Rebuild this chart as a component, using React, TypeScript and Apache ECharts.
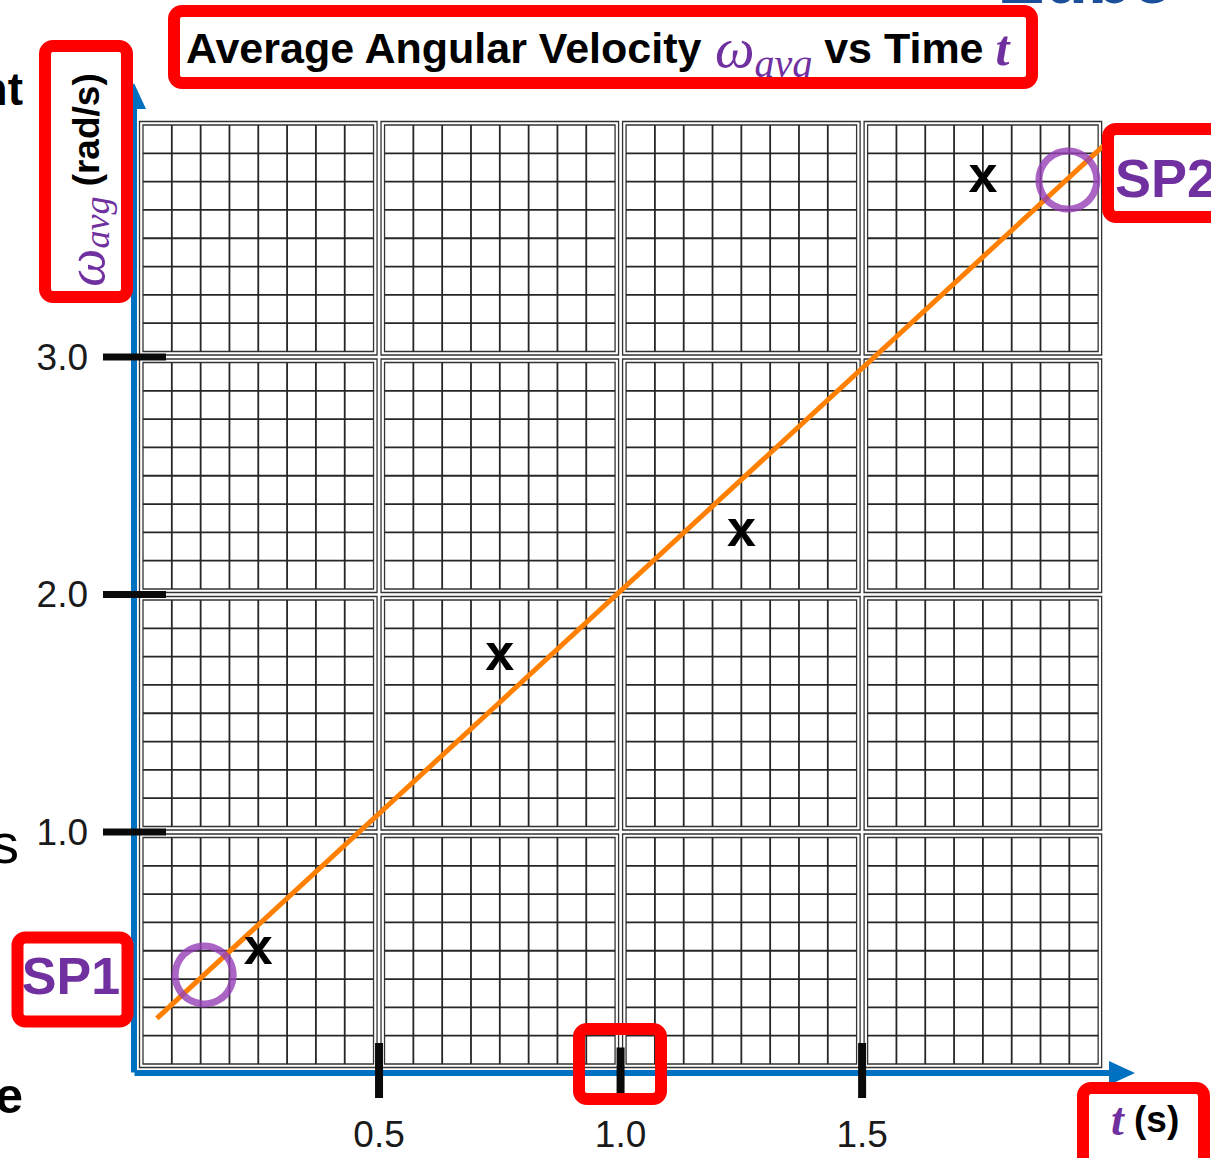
import React, { useEffect, useRef } from "react";
import * as echarts from "echarts";

// Measured values: average angular velocity (rad/s) against time (s)
const timeS = [0.25, 0.75, 1.25, 1.75];
const omegaAvg = [0.5, 1.74, 2.26, 3.75];

// Best-fit line end points
const fitTimeS = [0.04, 2.0];
const fitOmega = [0.215, 3.89];

// Sample points picked on the best-fit line
const samplePointNames = ["SP1", "SP2"];
const sampleTimeS = [0.138, 1.926];
const sampleOmega = [0.398, 3.745];

// Labelled ticks
const timeTicks = [0.5, 1.0, 1.5];
const omegaTicks = [1.0, 2.0, 3.0];

// Graph-paper blocks (lower-left corners)
const blockTimes = [0, 0.5, 1.0, 1.5];
const blockOmegas = [0, 1, 2, 3];

const BLOCK_T = 0.5;
const BLOCK_OMEGA = 1;
const SQUARES = 8;

const SANS = "'Liberation Sans', Arial, sans-serif";
const SERIF = "'Liberation Serif', 'Times New Roman', serif";
const PURPLE = "#7030A0";
const RED = "#FF0000";
const BLUE = "#0070C0";

const isTick = (v: number, list: number[]) => list.some((t) => Math.abs(t - v) < 1e-6);

// One 8x8 block of graph paper with a double border
const paperItem = (_params: any, api: any) => {
  const t0 = api.value(0);
  const w0 = api.value(1);
  const tl = api.coord([t0, w0 + BLOCK_OMEGA]);
  const br = api.coord([t0 + BLOCK_T, w0]);
  const L = tl[0], T = tl[1], R = br[0], B = br[1];
  const children: any[] = [];
  const frame = (inset: number) => ({
    type: "rect",
    shape: { x: L + inset, y: T + inset, width: R - L - 2 * inset, height: B - T - 2 * inset },
    style: { fill: "none", stroke: "#333333", lineWidth: 1.3 },
  });
  children.push(frame(2), frame(5.5));
  const iL = L + 5.5, iR = R - 5.5, iT = T + 5.5, iB = B - 5.5;
  for (let k = 1; k < SQUARES; k++) {
    const x = iL + ((iR - iL) * k) / SQUARES;
    const y = iT + ((iB - iT) * k) / SQUARES;
    children.push({
      type: "line",
      shape: { x1: x, y1: iT, x2: x, y2: iB },
      style: { stroke: "#262626", lineWidth: 1.8 },
    });
    children.push({
      type: "line",
      shape: { x1: iL, y1: y, x2: iR, y2: y },
      style: { stroke: "#262626", lineWidth: 1.8 },
    });
  }
  return { type: "group", children };
};

// Heavy black tick bars across the time axis
const timeTickItem = (_params: any, api: any) => {
  const v = api.value(0);
  const p = api.coord([v, 0]);
  const short = Math.abs(v - 1.0) < 1e-6;
  const top = short ? -22 : -26.5;
  const len = short ? 48 : 55;
  return {
    type: "rect",
    shape: { x: p[0] - 4, y: p[1] + top, width: 8, height: len },
    style: { fill: "#0a0a0a" },
  };
};

// Heavy black tick bars across the angular-velocity axis
const omegaTickItem = (_params: any, api: any) => {
  const p = api.coord([0, api.value(1)]);
  return {
    type: "rect",
    shape: { x: p[0] - 34.5, y: p[1] - 3.5, width: 63, height: 7 },
    style: { fill: "#0a0a0a" },
  };
};

// Plotted readings drawn as bold "x" glyphs
const markItem = (_params: any, api: any) => {
  const p = api.coord([api.value(0), api.value(1)]);
  return {
    type: "text",
    x: p[0],
    y: p[1] - 4.5,
    style: {
      text: "x",
      fontSize: 52,
      fontWeight: "bold",
      fontFamily: SANS,
      fill: "#000",
      align: "center",
      verticalAlign: "middle",
    },
  };
};

const redBox = (x: number, y: number, width: number, height: number) => ({
  type: "rect",
  z: 100,
  shape: { x, y, width, height, r: 8 },
  style: { fill: "none", stroke: RED, lineWidth: 12 },
});

const plainText = (
  text: string,
  x: number,
  y: number,
  fontSize: number,
  extra: Record<string, any> = {}
) => ({
  type: "text",
  z: 100,
  x,
  y,
  style: {
    text,
    fontSize,
    fontFamily: SANS,
    fill: "#000",
    align: "left",
    verticalAlign: "middle",
    ...extra,
  },
});

export default function App() {
  const ref = useRef<HTMLDivElement>(null);

  useEffect(() => {
    if (!ref.current) return;
    const chart = echarts.init(ref.current, undefined, { renderer: "svg" });

    const blocks: number[][] = [];
    blockTimes.forEach((t) => blockOmegas.forEach((w) => blocks.push([t, w])));

    const axisLine = {
      show: true,
      onZero: false,
      symbol: ["none", "triangle"],
      symbolSize: [24, 26],
      lineStyle: { color: BLUE, width: 6, cap: "square" },
    };

    const option: any = {
      animation: false,
      backgroundColor: "#ffffff",
      grid: { left: 137.5, right: 89, top: 96, bottom: 88.5, containLabel: false },
      xAxis: {
        type: "value",
        min: 0,
        max: 2.038,
        interval: 0.5,
        offset: 3.5,
        axisLine,
        axisTick: { show: false },
        splitLine: { show: false },
        axisLabel: {
          margin: 43,
          fontSize: 37,
          color: "#1a1a1a",
          fontFamily: SANS,
          formatter: (v: number) => (isTick(v, timeTicks) ? v.toFixed(1) : ""),
        },
      },
      yAxis: {
        type: "value",
        min: 0,
        max: 4.099,
        interval: 1,
        offset: 3.5,
        axisLine,
        axisTick: { show: false },
        splitLine: { show: false },
        axisLabel: {
          margin: 46,
          fontSize: 37,
          color: "#1a1a1a",
          fontFamily: SANS,
          formatter: (v: number) => (isTick(v, omegaTicks) ? v.toFixed(1) : ""),
        },
      },
      series: [
        {
          type: "custom",
          name: "paper",
          silent: true,
          clip: false,
          z: 1,
          renderItem: paperItem,
          data: blocks,
        },
        {
          type: "line",
          name: "best fit",
          z: 3,
          showSymbol: false,
          lineStyle: { color: "#FF8000", width: 5 },
          data: fitTimeS.map((t, i) => [t, fitOmega[i]]),
        },
        {
          type: "scatter",
          name: "sample points",
          z: 4,
          symbol: "circle",
          symbolSize: 58,
          itemStyle: { color: "rgba(0,0,0,0)", borderColor: "#9640B6", borderWidth: 7 },
          data: sampleTimeS.map((t, i) => ({ name: samplePointNames[i], value: [t, sampleOmega[i]] })),
        },
        {
          type: "custom",
          name: "readings",
          clip: false,
          z: 5,
          renderItem: markItem,
          data: timeS.map((t, i) => [t, omegaAvg[i]]),
        },
        {
          type: "custom",
          name: "time ticks",
          clip: false,
          z: 6,
          renderItem: timeTickItem,
          data: timeTicks.map((t) => [t, 0]),
        },
        {
          type: "custom",
          name: "omega ticks",
          clip: false,
          z: 6,
          renderItem: omegaTickItem,
          data: omegaTicks.map((w) => [0, w]),
        },
      ],
      graphic: [
        // fragments of surrounding slide text at the page edges
        plainText("nt", 23, 89, 46, { fontWeight: "bold", align: "right" }),
        plainText("s", 19, 843, 56, { align: "right" }),
        plainText("e", 23, 1096, 50, { fontWeight: "bold", align: "right" }),
        plainText("Zube", 1000, -22, 72, { fontWeight: "bold", fill: "#1B4F9C" }),

        // title
        {
          type: "text",
          z: 100,
          x: 186,
          y: 48,
          style: {
            text: "{b|Average Angular Velocity }{w|ω}{s|avg}{b| vs Time }{t|t}",
            align: "left",
            verticalAlign: "middle",
            rich: {
              b: { fontSize: 43, fontWeight: "bold", fontFamily: SANS, fill: "#000", lineHeight: 50 },
              w: { fontSize: 56, fontStyle: "italic", fontFamily: SERIF, fill: PURPLE, lineHeight: 50 },
              s: {
                fontSize: 40,
                fontStyle: "italic",
                fontFamily: SERIF,
                fill: PURPLE,
                lineHeight: 40,
                padding: [30, 0, 0, 0],
              },
              t: {
                fontSize: 50,
                fontStyle: "italic",
                fontWeight: "bold",
                fontFamily: SERIF,
                fill: PURPLE,
                lineHeight: 50,
              },
            },
          },
        },

        // vertical axis name
        {
          type: "text",
          z: 100,
          x: 86,
          y: 180,
          rotation: Math.PI / 2,
          style: {
            text: "{w|ω}{s|avg}{b| (rad/s)}",
            align: "center",
            verticalAlign: "middle",
            rich: {
              b: { fontSize: 37, fontWeight: "bold", fontFamily: SANS, fill: "#000", lineHeight: 44 },
              w: { fontSize: 54, fontStyle: "italic", fontFamily: SERIF, fill: PURPLE, lineHeight: 44 },
              s: {
                fontSize: 36,
                fontStyle: "italic",
                fontFamily: SERIF,
                fill: PURPLE,
                lineHeight: 36,
                padding: [22, 0, 0, 0],
              },
            },
          },
        },

        // horizontal axis name
        {
          type: "text",
          z: 100,
          x: 1111,
          y: 1119,
          style: {
            text: "{t|t}{b| (s)}",
            align: "left",
            verticalAlign: "middle",
            rich: {
              b: { fontSize: 37, fontWeight: "bold", fontFamily: SANS, fill: "#000", lineHeight: 44 },
              t: {
                fontSize: 46,
                fontStyle: "italic",
                fontWeight: "bold",
                fontFamily: SERIF,
                fill: PURPLE,
                lineHeight: 44,
              },
            },
          },
        },

        // sample point names
        plainText(samplePointNames[0], 71, 976, 52, {
          fontWeight: "bold",
          fill: PURPLE,
          align: "center",
        }),
        plainText(samplePointNames[1], 1115, 178, 54, { fontWeight: "bold", fill: PURPLE }),

        // highlight boxes
        redBox(174, 11, 858, 72),
        redBox(45, 46, 82, 251),
        redBox(17.5, 937.5, 110, 84),
        redBox(1108, 129, 130, 88),
        redBox(579, 1029, 82, 70),
        redBox(1083, 1088, 121, 100),
      ],
    };

    chart.setOption(option);
    return () => chart.dispose();
  }, []);

  return (
    <div
      ref={ref}
      style={{ position: "absolute", left: 0, top: 0, width: 1211, height: 1158, background: "#fff" }}
    />
  );
}
